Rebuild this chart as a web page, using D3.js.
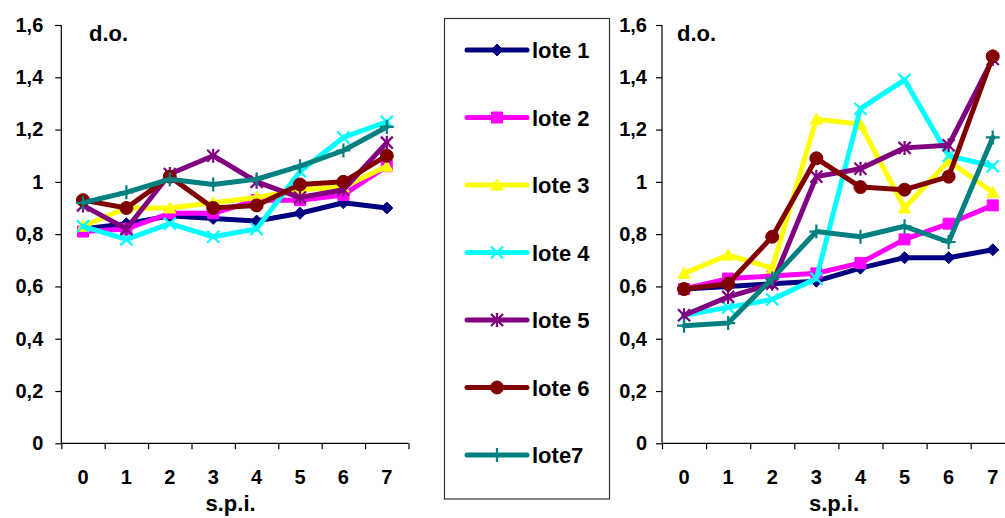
<!DOCTYPE html>
<html><head><meta charset="utf-8">
<script src="https://cdn.jsdelivr.net/npm/d3@7"></script>
<style>
html,body{margin:0;padding:0;background:#fff;}
svg{display:block;font-family:"Liberation Sans",Arial,sans-serif;font-weight:bold;}
</style></head>
<body>
<svg id="chart" width="1005" height="518"></svg>
<script>
const categories = ["0","1","2","3","4","5","6","7"];
const yTicks = [0,0.2,0.4,0.6,0.8,1.0,1.2,1.4,1.6];
const seriesNames = ["lote 1","lote 2","lote 3","lote 4","lote 5","lote 6","lote7"];
const seriesColors = ["#000080","#FF00FF","#FFFF00","#00FFFF","#800080","#800000","#008080"];
const seriesMarkers = ["diamond","square","triangle","x","star","circle","plus"];

// left panel
const left1 = [0.82,0.84,0.87,0.86,0.85,0.88,0.92,0.90];
const left2 = [0.81,0.82,0.88,0.88,0.93,0.93,0.95,1.06];
const left3 = [0.83,0.90,0.90,0.92,0.94,0.97,0.98,1.06];
const left4 = [0.83,0.78,0.84,0.79,0.82,1.04,1.17,1.23];
const left5 = [0.91,0.82,1.03,1.10,1.00,0.94,0.97,1.15];
const left6 = [0.93,0.90,1.02,0.90,0.91,0.99,1.00,1.10];
const left7 = [0.92,0.96,1.01,0.99,1.01,1.06,1.12,1.21];
// right panel
const right1 = [0.59,0.60,0.61,0.62,0.67,0.71,0.71,0.74];
const right2 = [0.59,0.63,0.64,0.65,0.69,0.78,0.84,0.91];
const right3 = [0.65,0.72,0.67,1.24,1.22,0.90,1.08,0.96];
const right4 = [0.49,0.52,0.55,0.63,1.28,1.39,1.10,1.06];
const right5 = [0.49,0.56,0.61,1.02,1.05,1.13,1.14,1.47];
const right6 = [0.59,0.61,0.79,1.09,0.98,0.97,1.02,1.48];
const right7 = [0.45,0.46,0.63,0.81,0.79,0.83,0.77,1.17];

const leftSeries = [left1,left2,left3,left4,left5,left6,left7];
const rightSeries = [right1,right2,right3,right4,right5,right6,right7];

const svg = d3.select("#chart");

function markerPath(type){
  switch(type){
    case "diamond": return {d:"M0,-6L6,0L0,6L-6,0Z", fill:true};
    case "square": return {d:"M-5.5,-5.5H5.5V5.5H-5.5Z", fill:true};
    case "triangle": return {d:"M0,-6L6,5L-6,5Z", fill:true};
    case "circle": return {d:"M-6.5,0A6.5,6.5 0 1,0 6.5,0A6.5,6.5 0 1,0 -6.5,0Z", fill:true};
    case "x": return {d:"M-6,-6L6,6M-6,6L6,-6", fill:false};
    case "star": return {d:"M-6,-6L6,6M-6,6L6,-6M0,-7L0,7", fill:false};
    case "plus": return {d:"M0,-7L0,7M-7,0L7,0", fill:false};
  }
}

function drawMarker(g, type, color, x, y){
  const m = markerPath(type);
  const p = g.append("path").attr("d", m.d).attr("transform", `translate(${x},${y})`);
  if(m.fill) p.attr("fill", color).attr("stroke", color).attr("stroke-width", 1);
  else p.attr("fill","none").attr("stroke", color).attr("stroke-width", 2.2);
}

function panel(x0, bw, data, labelYPad, titleX){
  const y = d3.scaleLinear().domain([0,1.6]).range([443.3,25]);
  const xb = d3.scaleBand().domain(categories).range([x0, x0 + bw*categories.length]).padding(0);
  const xl = d3.scaleLinear().domain([0,categories.length]).range([x0, x0 + bw*categories.length]);
  const g = svg.append("g");

  // y axis
  const ya = g.append("g").attr("transform", `translate(${x0},0)`)
    .call(d3.axisLeft(y).tickValues(yTicks).tickSize(6).tickPadding(labelYPad)
      .tickFormat(d => d3.format(".1f")(d).replace(".",",").replace(/^0,0$/,"0").replace(/^1,0$/,"1")));
  ya.select(".domain").attr("stroke","#000").attr("stroke-width",1.2).attr("d", `M-6,25.5H0V443.3`);
  ya.selectAll(".tick line").attr("stroke","#000").attr("stroke-width",1.2);
  ya.selectAll(".tick text").attr("font-size",20).attr("fill","#000").attr("font-weight","bold");

  // x axis boundary ticks
  const xt = g.append("g").attr("transform", `translate(0,443.3)`)
    .call(d3.axisBottom(xl).tickValues(d3.range(0,categories.length+1)).tickSize(6).tickFormat(""));
  xt.select(".domain").attr("stroke","#000").attr("stroke-width",1.2).attr("d", `M${x0},0H${x0+bw*categories.length}`);
  xt.selectAll(".tick line").attr("stroke","#000").attr("stroke-width",1.2);
  // x labels
  const xa = g.append("g").attr("transform", `translate(0,443.3)`)
    .call(d3.axisBottom(xb).tickSize(0).tickPadding(26.5));
  xa.select(".domain").remove();
  xa.selectAll(".tick text").attr("font-size",20).attr("fill","#000").attr("font-weight","bold");

  // axis titles
  g.append("text").attr("x", titleX).attr("y", 41).attr("font-size",22).attr("fill","#000").text("d.o.");
  g.append("text").attr("x", x0 + bw*3.9).attr("y", 511).attr("text-anchor","middle")
    .attr("font-size",22).attr("fill","#000").text("s.p.i.");

  const line = d3.line().x((d,i)=>xb(categories[i]) + xb.bandwidth()/2).y(d=>y(d));
  data.forEach((vals, si) => {
    const sg = g.append("g");
    sg.append("path").attr("d", line(vals)).attr("fill","none")
      .attr("stroke", seriesColors[si]).attr("stroke-width",5)
      .attr("stroke-linejoin","round").attr("stroke-linecap","round");
    vals.forEach((v,i)=> drawMarker(sg, seriesMarkers[si], seriesColors[si], xb(categories[i]) + xb.bandwidth()/2, y(v)));
  });
}

panel(61.3, 43.4, leftSeries, 12, 89);
panel(662, 44.1, rightSeries, 9, 677);

// legend
const lg = svg.append("g");
lg.append("rect").attr("x",444.5).attr("y",18.5).attr("width",165).attr("height",480.5)
  .attr("fill","#fff").attr("stroke","#333").attr("stroke-width",1.2);
const ly = d3.scalePoint().domain(seriesNames).range([50,455]);
seriesNames.forEach((n, si) => {
  const yy = ly(n);
  lg.append("line").attr("x1",467).attr("x2",527).attr("y1",yy).attr("y2",yy)
    .attr("stroke",seriesColors[si]).attr("stroke-width",5).attr("stroke-linecap","round");
  drawMarker(lg, seriesMarkers[si], seriesColors[si], 497, yy);
  lg.append("text").attr("x",532).attr("y",yy+8).attr("font-size",22).attr("fill","#000").text(n);
});
</script>
</body></html>
